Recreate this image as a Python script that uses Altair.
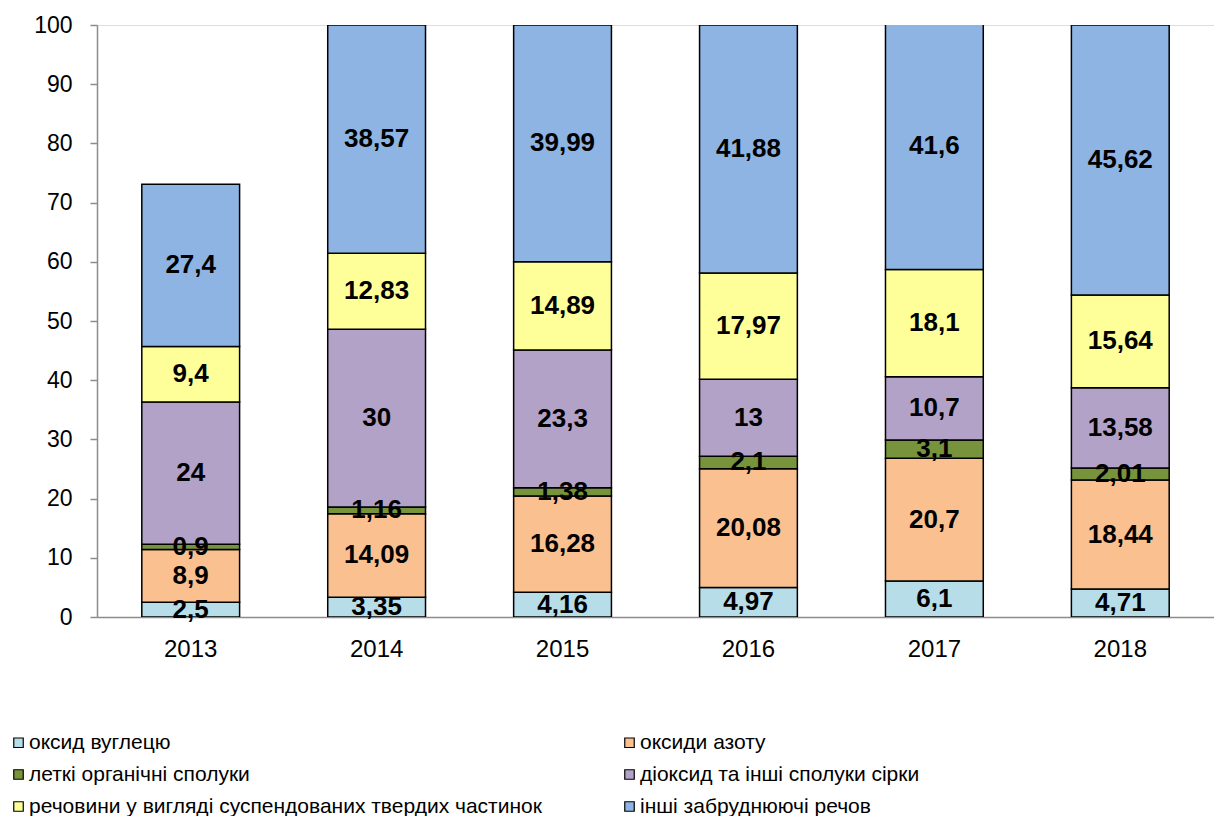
import altair as alt
import pandas as pd

years = ["2013", "2014", "2015", "2016", "2017", "2018"]
series = [
    "оксид вуглецю",
    "оксиди азоту",
    "леткі органічні сполуки",
    "діоксид та інші сполуки сірки",
    "речовини  у вигляді суспендованих твердих частинок",
    "інші забруднюючі речов",
]
co = [2.5, 3.35, 4.16, 4.97, 6.1, 4.71]
nox = [8.9, 14.09, 16.28, 20.08, 20.7, 18.44]
voc = [0.9, 1.16, 1.38, 2.1, 3.1, 2.01]
so2 = [24, 30, 23.3, 13, 10.7, 13.58]
pm = [9.4, 12.83, 14.89, 17.97, 18.1, 15.64]
other = [27.4, 38.57, 39.99, 41.88, 41.6, 45.62]
colors = ["#B7DEE8", "#FAC090", "#77933C", "#B3A2C7", "#FFFF99", "#8DB4E2"]

values = [co, nox, voc, so2, pm, other]
rows = []
for si, (name, vals) in enumerate(zip(series, values)):
    for y, v in zip(years, vals):
        rows.append({"year": y, "series": name, "order": si, "value": v,
                     "label": f"{v:g}".replace(".", ",")})
df = pd.DataFrame(rows)

FONT = "Liberation Sans"

base = alt.Chart(df).transform_stack(
    stack="value", groupby=["year"], as_=["y0", "y1"],
    sort=[alt.SortField("order", order="ascending")]
).transform_calculate(mid="(datum.y0 + datum.y1) / 2")

xenc = alt.X("year:N", title=None, sort=years,
             scale=alt.Scale(paddingInner=0.474, paddingOuter=0.241),
             axis=alt.Axis(labelAngle=0, labelFontSize=24, labelFont=FONT,
                           labelColor="black", tickSize=0, labelPadding=20,
                           domainColor="#8c8c8c", domainWidth=1.5))

bars = base.mark_bar(stroke="black", strokeWidth=1.5, clip=True).encode(
    x=xenc,
    y=alt.Y("y0:Q", title=None, scale=alt.Scale(domain=[0, 100], nice=False),
            axis=alt.Axis(values=list(range(0, 101, 10)), labelFontSize=23,
                          labelFont=FONT, labelColor="black", tickSize=7,
                          tickColor="#8c8c8c", tickWidth=1.5, labelPadding=18,
                          domainColor="#8c8c8c", domainWidth=1.5, grid=False)),
    y2="y1:Q",
    color=alt.Color("series:N", sort=series,
                    scale=alt.Scale(domain=series, range=colors),
                    legend=alt.Legend(title=None, orient="none", legendX=-89,
                                      legendY=707, columns=2, direction="horizontal",
                                      columnPadding=71,
                                      rowPadding=10, labelFont=FONT,
                                      labelFontSize=21, labelColor="black",
                                      symbolType="square", symbolSize=90,
                                      symbolStrokeColor="black",
                                      symbolStrokeWidth=1.2, labelOffset=0,
                                      padding=0, labelLimit=700)),
    order=alt.Order("order:Q"),
)

texts = base.mark_text(font=FONT, fontWeight="bold", fontSize=26,
                       baseline="middle", color="black").encode(
    x=alt.X("year:N", sort=years),
    y=alt.Y("mid:Q"),
    text="label:N",
)

chart = alt.layer(bars, texts).properties(
    width=1117, height=592,
    padding={"left": 0, "top": 6, "right": 0, "bottom": 0},
).configure_view(stroke=None).configure(background="white")

chart.save("out.html", embed_options={"renderer": "svg", "actions": False})
